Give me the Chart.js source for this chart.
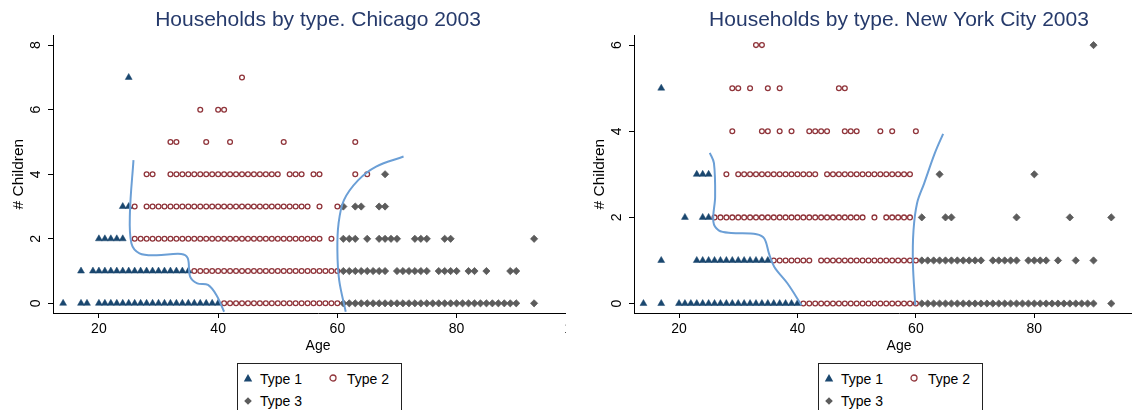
<!DOCTYPE html>
<html lang="en">
<head>
<meta charset="UTF-8" />
<title>Households by type, Chicago and New York City 2003</title>
<script src="https://cdn.jsdelivr.net/npm/chart.js"></script>
<style>
  body { margin: 0; width: 1132px; height: 410px; overflow: hidden; background: #fff; position: relative; font-family: "Liberation Sans", Arial, sans-serif; }
  .panel { position: absolute; top: 0; height: 410px; overflow: hidden; }
  .panel canvas { position: absolute; top: 0; }
  .legend { position: absolute; top: 363px; width: 163px; height: 60px; border: 1px solid #222; background: #fff; font-size: 14px; color: #000; }
  .legend span { position: absolute; line-height: 16px; white-space: nowrap; }
  .legend svg { position: absolute; }
</style>
</head>
<body>

<div class="panel" style="left:0; width:566px;">
  <canvas id="chicago" width="600" height="355" style="left:0;"></canvas>
</div>
<div class="panel" style="left:566px; width:566px;">
  <canvas id="nyc" width="600" height="355" style="left:15px;"></canvas>
</div>

<div class="legend" style="left:237px;">
  <svg width="10" height="10" style="left:5px; top:9px;"><polygon points="5,1 9.2,8.6 0.8,8.6" fill="#1a476f"/></svg>
  <span style="left:22px; top:7px;">Type 1</span>
  <svg width="10" height="10" style="left:90px; top:9px;"><circle cx="5" cy="5" r="3" fill="none" stroke="#90353b" stroke-width="1.3"/></svg>
  <span style="left:109px; top:7px;">Type 2</span>
  <svg width="10" height="10" style="left:5px; top:32px;"><polygon points="5,1.2 8.8,5 5,8.8 1.2,5" fill="#5c5c5c"/></svg>
  <span style="left:22px; top:29px;">Type 3</span>
</div>
<div class="legend" style="left:818px;">
  <svg width="10" height="10" style="left:5px; top:9px;"><polygon points="5,1 9.2,8.6 0.8,8.6" fill="#1a476f"/></svg>
  <span style="left:22px; top:7px;">Type 1</span>
  <svg width="10" height="10" style="left:90px; top:9px;"><circle cx="5" cy="5" r="3" fill="none" stroke="#90353b" stroke-width="1.3"/></svg>
  <span style="left:109px; top:7px;">Type 2</span>
  <svg width="10" height="10" style="left:5px; top:32px;"><polygon points="5,1.2 8.8,5 5,8.8 1.2,5" fill="#5c5c5c"/></svg>
  <span style="left:22px; top:29px;">Type 3</span>
</div>

<script>
// tick labels
const ageTicks = [20, 40, 60, 80, 100];
const chiKidTicks = [0, 2, 4, 6, 8];
const nycKidTicks = [0, 2, 4, 6];

// ages observed at each number of children (array index = # children)
const chiType1 = [
  [14,17,18,20,21,22,23,24,25,26,27,28,29,30,31,32,33,34,35,36,37,38,39,40],
  [17,19,20,21,22,23,24,25,26,27,28,29,30,31,32,33,34,35],
  [20,21,22,23,24],
  [24,25],
  [],
  [],
  [],
  [25]
];
const chiType2 = [
  [41,42,43,44,45,46,47,48,49,50,51,52,53,54,55,56,57,58,59,60],
  [36,37,38,39,40,41,42,43,44,45,46,47,48,49,50,51,52,53,54,55,56,57,58,59,60],
  [26,27,28,29,30,31,32,33,34,35,36,37,38,39,40,41,42,43,44,45,46,47,48,49,50,51,52,53,54,55,56,57,59],
  [26,28,29,30,31,32,33,34,35,36,37,38,39,40,41,42,43,44,45,46,47,48,49,50,51,52,53,54,55,57,60],
  [28,29,32,33,34,35,36,37,38,39,40,41,42,43,44,45,46,47,48,49,50,52,53,54,56,57,63,65],
  [32,33,38,42,51,63],
  [37,40,41],
  [44]
];
const chiType3 = [
  [61,62,63,64,65,66,67,68,69,70,71,72,73,74,75,76,77,78,79,80,81,82,83,84,85,86,87,88,89,90,93],
  [61,62,63,64,65,66,67,68,70,71,72,73,74,75,77,78,79,80,82,83,85,89,90],
  [61,62,63,65,67,68,69,70,73,74,75,78,79,93],
  [61,63,64,67,68],
  [68]
];

const nycType1 = [
  [14,17,20,21,22,23,24,25,26,27,28,29,30,31,32,33,34,35,36,37,38,39,40],
  [17,23,24,25,26,27,28,29,30,31,32,33,34,35],
  [21,24,25],
  [23,24,25],
  [],
  [17]
];
const nycType2 = [
  [41,42,43,44,45,46,47,48,49,50,51,52,53,54,55,56,57,58,59,60],
  [36,37,38,39,40,41,42,44,45,46,47,48,49,50,51,52,53,54,55,56,57,58,59,60],
  [26,27,28,29,30,31,32,33,34,35,36,37,38,39,40,41,42,43,44,45,46,47,48,49,50,51,53,55,56,57,58,59],
  [28,30,31,32,33,34,35,36,37,38,39,40,41,42,43,45,46,47,48,49,50,51,52,53,54,55,56,57,58,59],
  [29,34,35,37,39,42,43,44,45,48,49,50,54,56,60],
  [29,30,32,35,37,47,48],
  [33,34]
];
const nycType3 = [
  [61,62,63,64,65,66,67,68,69,70,71,72,73,74,75,76,77,78,79,80,81,82,83,84,85,86,87,88,89,90,93],
  [61,62,63,64,65,66,67,68,69,70,71,73,74,75,76,77,79,80,81,82,84,87,90],
  [61,65,66,77,86,93],
  [64,80],
  [],
  [],
  [90]
];

// hand-drawn boundary curves, [age, # children]
const chiCurveYoung = [[25.8,4.44],[25.2,2.79],[25.45,1.86],[26.8,1.55],[29.6,1.49],[33.8,1.53],[34.9,1.40],[35.3,0.83],[36.5,0.62],[38.3,0.57],[39.7,0.26],[41.0,-0.26]];
const chiCurveOld = [[71.1,4.55],[66.5,4.24],[63.5,3.82],[61.1,3.20],[60.2,2.48],[60.0,1.65],[60.3,0.72],[61.4,-0.26]];
const nycCurveYoung = [[25.2,3.50],[25.9,3.26],[26.1,2.48],[25.8,1.90],[26.7,1.70],[28.8,1.64],[33.1,1.61],[34.4,1.51],[35.2,1.16],[36.1,0.85],[38.3,0.47],[40.7,-0.04]];
const nycCurveOld = [[64.6,3.94],[63.2,3.49],[61.4,2.79],[60.2,2.33],[59.6,1.70],[59.5,0.93],[59.9,-0.04]];

Chart.defaults.font.family = '"Liberation Sans", Arial, sans-serif';
Chart.defaults.color = '#000';

function toPoints(rows) {
  const pts = [];
  rows.forEach((ages, kids) => ages.forEach(a => pts.push({ x: a, y: kids })));
  return pts;
}

// y tick labels are turned 90 degrees, as in the original
const rotatedYTicks = {
  id: 'rotatedYTicks',
  afterDraw(chart) {
    const s = chart.scales.y, ctx = chart.ctx;
    ctx.save();
    ctx.font = '14px "Liberation Sans", Arial, sans-serif';
    ctx.fillStyle = '#000';
    ctx.textAlign = 'center';
    ctx.textBaseline = 'middle';
    s.ticks.forEach(t => {
      ctx.save();
      ctx.translate(s.right - 17, s.getPixelForValue(t.value));
      ctx.rotate(-Math.PI / 2);
      ctx.fillText(String(t.value), 0, 0);
      ctx.restore();
    });
    ctx.restore();
  }
};

function householdChart(id, title, t1, t2, t3, curves, xMin, xMax, yMin, yMax, yTicks) {
  const curveSets = curves.map(c => ({
    type: 'scatter',
    data: c.map(p => ({ x: p[0], y: p[1] })),
    showLine: true,
    tension: 0.35,
    borderColor: '#6b9fd6',
    borderWidth: 2,
    pointRadius: 0,
    order: 0
  }));
  new Chart(document.getElementById(id), {
    type: 'scatter',
    data: {
      datasets: [
        ...curveSets,
        { label: 'Type 1', data: toPoints(t1), pointStyle: 'triangle', pointRadius: 4,
          backgroundColor: '#1a476f', borderColor: '#1a476f', borderWidth: 0.5, order: 1 },
        { label: 'Type 2', data: toPoints(t2), pointStyle: 'circle', pointRadius: 2.4,
          backgroundColor: 'rgba(255,255,255,0)', borderColor: '#90353b', borderWidth: 1.3, order: 1 },
        { label: 'Type 3', data: toPoints(t3), pointStyle: 'rectRot', pointRadius: 3.6,
          backgroundColor: '#5c5c5c', borderColor: '#5c5c5c', borderWidth: 0.8, order: 1 }
      ]
    },
    options: {
      responsive: false,
      animation: false,
      layout: { padding: { left: 0, right: 17, top: 0, bottom: 0 } },
      plugins: {
        legend: { display: false },
        tooltip: { enabled: false },
        title: {
          display: true, text: title, fullSize: false, color: '#263a6b',
          font: { size: 21, weight: 'normal' }, padding: { top: 8, bottom: 2 }
        }
      },
      scales: {
        x: {
          type: 'linear', min: xMin, max: xMax,
          afterBuildTicks: s => { s.ticks = ageTicks.map(v => ({ value: v })); },
          afterFit: s => { s.height = 42; },
          grid: { drawOnChartArea: false, drawTicks: true, tickLength: 5, color: '#000' },
          border: { display: true, color: '#000', width: 1 },
          ticks: { font: { size: 14 }, padding: 3, maxRotation: 0 },
          title: { display: true, text: 'Age', font: { size: 14 }, padding: 0 }
        },
        y: {
          type: 'linear', min: yMin, max: yMax,
          afterBuildTicks: s => { s.ticks = yTicks.map(v => ({ value: v })); },
          afterFit: s => { s.width = 53; },
          grid: { drawOnChartArea: false, drawTicks: true, tickLength: 5, color: '#000' },
          border: { display: true, color: '#000', width: 1 },
          ticks: { display: false },
          title: { display: true, text: '# Children', font: { size: 15.5 }, padding: { top: 9, bottom: 0 } }
        }
      }
    },
    plugins: [rotatedYTicks]
  });
}

householdChart('chicago', 'Households by type. Chicago 2003', chiType1, chiType2, chiType3,
  [chiCurveYoung, chiCurveOld], 12.3, 101.2, -0.3, 8.31, chiKidTicks);
householdChart('nyc', 'Households by type. New York City 2003', nycType1, nycType2, nycType3,
  [nycCurveYoung, nycCurveOld], 12.4, 101.9, -0.22, 6.23, nycKidTicks);
</script>
</body>
</html>
